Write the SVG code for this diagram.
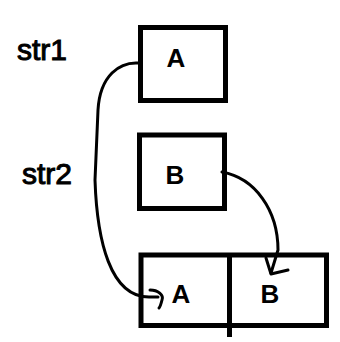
<svg xmlns="http://www.w3.org/2000/svg" width="340" height="342" viewBox="0 0 340 342">
<style>
.box{fill:#fff;stroke:#000;stroke-width:5}
.lbl{font-family:"Liberation Sans",Arial,sans-serif;font-size:26px;font-weight:bold;text-anchor:middle;fill:#000}
.hand{font-family:"Liberation Sans",Arial,sans-serif;font-size:30px;fill:#000;stroke:#000;stroke-width:1}
.wire{fill:none;stroke:#000;stroke-width:3;stroke-linecap:round;stroke-linejoin:round}
</style>
<rect width="340" height="342" fill="#fff"/>
<g id="label-str1"><text class="hand" x="17" y="60">str1</text></g>
<g id="label-str2"><text class="hand" x="22" y="184">str2</text></g>
<g id="node-A">
<rect class="box" x="140.5" y="27.5" width="85" height="73"/>
<text class="lbl" x="176" y="67">A</text>
</g>
<g id="node-B">
<rect class="box" x="139.5" y="135" width="85" height="73.5"/>
<text class="lbl" x="175" y="184">B</text>
</g>
<g id="node-AB">
<rect class="box" x="141" y="255" width="185.5" height="70.5"/>
<line x1="229.5" y1="255" x2="229.5" y2="337" stroke="#000" stroke-width="5"/>
<text class="lbl" x="181" y="303">A</text>
<text class="lbl" x="270" y="303">B</text>
</g>
<g id="connectors">
<path class="wire" d="M138,63 C120,62 100,75 98,110 L95,180 C97,240 110,298 150,297 L158,297"/>
<path class="wire" d="M150,290 C158,290 164,295 162,300 C161,304 160,307 159,308"/>
<path class="wire" d="M222,172 C255,178 278,210 278,250 L271,273"/>
<path class="wire" d="M266,258 L271,274 L288,270"/>
</g>
</svg>
